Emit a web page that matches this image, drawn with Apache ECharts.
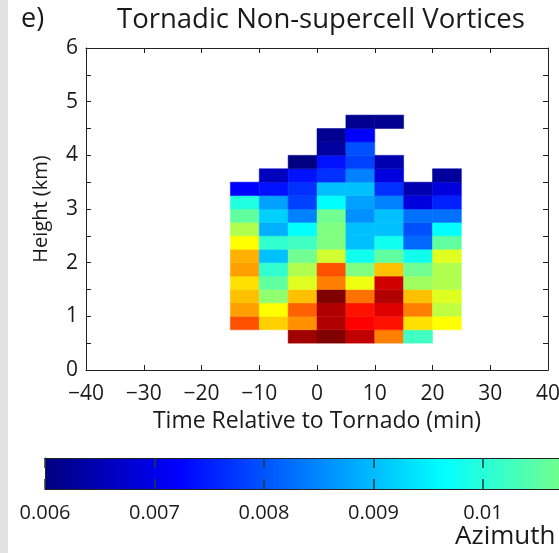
<!DOCTYPE html>
<html>
<head>
<meta charset="utf-8">
<script src="https://cdn.jsdelivr.net/npm/echarts@6/dist/echarts.min.js"></script>
<style>
html, body { margin: 0; padding: 0; background: #fff; }
#main { width: 559px; height: 553px; }
</style>
</head>
<body>
<div id="main"></div>
<script>
"use strict"
// bin edges: 5 min wide in time, 0.25 km tall in height
var times = [-15, -10, -5, 0, 5, 10, 15, 20];
var heights = [0.5, 0.75, 1.0, 1.25, 1.5, 1.75, 2.0, 2.25, 2.5, 2.75, 3.0, 3.25, 3.5, 3.75, 4.0, 4.25, 4.5];

// azimuthal shear, one row per height bin (bottom to top), null = no data
var shear = [
    [null,    null,    0.01539, 0.0157,  0.01509, 0.01328, 0.01024, null],
    [0.01373, 0.01251, 0.01312, 0.01524, 0.01449, 0.01433, 0.01236, 0.01206],
    [0.01297, 0.01206, 0.01358, 0.01524, 0.01433, 0.01479, 0.01328, 0.01146],
    [0.01266, 0.0110,  0.01266, 0.0157,  0.01342, 0.01524, 0.01266, 0.01176],
    [0.01236, 0.01055, 0.01176, 0.01328, 0.01192, 0.01493, 0.01116, 0.01131],
    [0.01297, 0.0101,  0.01131, 0.01373, 0.01085, 0.01266, 0.0107,  0.01131],
    [0.01282, 0.00904, 0.0107,  0.01162, 0.00979, 0.01055, 0.00979, 0.01176],
    [0.01206, 0.0101,  0.01024, 0.01085, 0.00904, 0.00979, 0.0082,  0.01055],
    [0.01131, 0.00888, 0.00964, 0.01085, 0.00904, 0.00904, 0.00797, 0.00964],
    [0.01055, 0.00919, 0.00843, 0.0107,  0.00858, 0.00904, 0.00828, 0.00828],
    [0.00994, 0.00874, 0.00782, 0.00964, 0.00874, 0.00843, 0.0069,  0.00752],
    [0.0072,  0.00737, 0.00767, 0.00904, 0.00904, 0.00767, 0.00646, 0.0069],
    [null,    0.0066,  0.00737, 0.00767, 0.00843, 0.0069,  null,    0.0063],
    [null,    null,    0.0060,  0.00737, 0.00782, 0.00646, null,    null],
    [null,    null,    null,    0.0063,  0.00797, null,    null,    null],
    [null,    null,    null,    0.00616, 0.0072,  null,    null,    null],
    [null,    null,    null,    null,    0.00616, 0.00616, null,    null]
];

var cMin = 0.006, cMax = 0.0157;
var jet = ['#000080', '#0000ff', '#0080ff', '#00ffff', '#80ff80', '#ffff00', '#ff8000', '#ff0000', '#800000'];
var dt = 5, dh = 0.25;
var font = 'Open Sans';
var ink = '#1a1a1a';

var cells = [];
for (var i = 0; i < heights.length; i++) {
    for (var j = 0; j < times.length; j++) {
        if (shear[i][j] != null) cells.push([times[j], heights[i], shear[i][j]]);
    }
}

var stops = [];
for (var k = 0; k < jet.length; k++) {
    stops.push({ offset: k / (jet.length - 1), color: jet[k] });
}

function minus(v) {
    return v < 0 ? '\u2212' + Math.abs(v) : '' + v;
}

function renderCell(params, api) {
    var p0 = api.coord([api.value(0), api.value(1) + dh]);
    var p1 = api.coord([api.value(0) + dt, api.value(1)]);
    var c = api.visual('color');
    return {
        type: 'rect',
        shape: { x: p0[0], y: p0[1], width: p1[0] - p0[0], height: p1[1] - p0[1] },
        style: { fill: c, stroke: c, lineWidth: 0.5 }
    };
}

var frame = { show: true, onZero: false, lineStyle: { color: '#222', width: 1 } };
var tick = { show: true, inside: true, length: 5, lineStyle: { color: '#222' } };
var cbTick = { show: true, inside: true, length: 10, lineStyle: { color: '#1d3a40', width: 1.5 } };

var option = {
    backgroundColor: '#fff',
    animation: false,
    textStyle: { fontFamily: font },
    title: [{
        text: 'e)',
        left: 21, top: 6, padding: 0,
        textStyle: { fontFamily: font, fontSize: 27, fontWeight: 'normal', color: ink }
    }, {
        text: 'Tornadic Non-supercell Vortices',
        left: 117, top: 6, padding: 0,
        textStyle: { fontFamily: font, fontSize: 27.5, fontWeight: 'normal', color: ink }
    }],
    graphic: [{
        type: 'rect', left: 0, top: 0, z: 100,
        shape: { width: 8, height: 553 },
        style: { fill: '#e2e2e2' }
    }, {
        type: 'text', left: 455, top: 524,
        style: { text: 'Azimuth', font: '26px "Open Sans"', fill: ink }
    }],
    grid: [{
        left: 86, top: 48, width: 462, height: 322,
        outerBoundsMode: 'none'
    }, {
        show: true, left: 45, top: 458, width: 1062, height: 31,
        outerBoundsMode: 'none',
        borderWidth: 0,
        backgroundColor: { type: 'linear', x: 0, y: 0, x2: 1, y2: 0, colorStops: stops }
    }],
    visualMap: {
        show: false, type: 'continuous', seriesIndex: 0, dimension: 2,
        min: cMin, max: cMax, inRange: { color: jet }
    },
    xAxis: [{
        gridIndex: 0, type: 'value', position: 'bottom',
        min: -40, max: 40, interval: 10,
        axisLine: frame, axisTick: tick, splitLine: { show: false },
        axisLabel: { fontSize: 21, color: ink, margin: 14, formatter: minus },
        name: 'Time Relative to Tornado (min)', nameLocation: 'middle', nameGap: 39,
        nameTextStyle: { fontSize: 23, color: ink }
    }, {
        gridIndex: 0, type: 'value', position: 'top',
        min: -40, max: 40, interval: 10,
        axisLine: frame, axisTick: tick, splitLine: { show: false },
        axisLabel: { show: false }
    }, {
        gridIndex: 1, type: 'value', position: 'bottom', z: 10,
        min: cMin, max: cMax, interval: 0.001,
        axisLine: frame, axisTick: cbTick, splitLine: { show: false },
        axisLabel: {
            fontSize: 20, color: ink, margin: 14,
            formatter: function(v) { return '' + parseFloat(v.toFixed(4)); }
        }
    }, {
        gridIndex: 1, type: 'value', position: 'top', z: 10,
        min: cMin, max: cMax, interval: 0.001,
        axisLine: frame, axisTick: cbTick, splitLine: { show: false },
        axisLabel: { show: false }
    }],
    yAxis: [{
        gridIndex: 0, type: 'value', position: 'left',
        min: 0, max: 6, interval: 0.5,
        axisLine: frame, axisTick: tick, splitLine: { show: false },
        axisLabel: {
            fontSize: 21, color: ink, margin: 8,
            formatter: function(v) { return v % 1 === 0 ? '' + v : ''; }
        },
        name: 'Height (km)', nameLocation: 'middle', nameGap: 35,
        nameTextStyle: { fontSize: 20, color: ink }
    }, {
        gridIndex: 0, type: 'value', position: 'right',
        min: 0, max: 6, interval: 0.5,
        axisLine: frame, axisTick: tick, splitLine: { show: false },
        axisLabel: { show: false }
    }, {
        gridIndex: 1, type: 'value', position: 'left', z: 10,
        min: 0, max: 1,
        axisLine: frame, axisTick: { show: false }, splitLine: { show: false },
        axisLabel: { show: false }
    }],
    series: [{
        type: 'custom',
        xAxisIndex: 0, yAxisIndex: 0,
        renderItem: renderCell,
        encode: { x: 0, y: 1 },
        data: cells
    }]
};

var chart = echarts.init(document.getElementById('main'));
chart.setOption(option);
</script>
</body>
</html>
